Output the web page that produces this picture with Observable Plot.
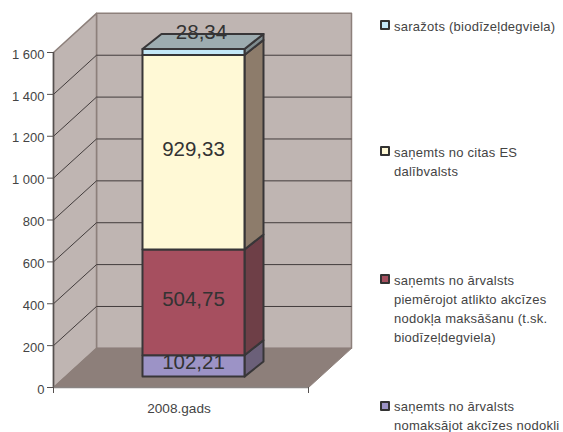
<!DOCTYPE html>
<html>
<head>
<meta charset="utf-8">
<script src="https://cdn.jsdelivr.net/npm/d3@7"></script>
<script src="https://cdn.jsdelivr.net/npm/@observablehq/plot@0.6"></script>
<style>
html,body{margin:0;padding:0;background:#fff;overflow:hidden}
#chart{position:relative;width:563px;height:432px;overflow:hidden;font-family:"Liberation Sans",sans-serif}
#chart svg{display:block;position:absolute;left:0;top:0}
.item{position:absolute;left:394px;font-size:13px;line-height:19.2px;color:#444;white-space:nowrap;letter-spacing:.25px}
.key{position:absolute;left:380px;width:6px;height:6px;border:2px solid #333;border-radius:1px}
</style>
</head>
<body>
<div id="chart"></div>
<script>
const categories = ["2008.gads"];
const series = [
  "saņemts no ārvalsts nomaksājot akcīzes nodokli",
  "saņemts no ārvalsts piemērojot atlikto akcīzes nodokļa maksāšanu (t.sk. biodīzeļdegviela)",
  "saņemts no citas ES dalībvalsts",
  "saražots (biodīzeļdegviela)"
];
const values = [102.21, 504.75, 929.33, 28.34];
const legendLines = [
  ["saņemts no ārvalsts", "nomaksājot akcīzes nodokli"],
  ["saņemts no ārvalsts", "piemērojot atlikto akcīzes", "nodokļa maksāšanu (t.sk.", "biodīzeļdegviela)"],
  ["saņemts no citas ES", "dalībvalsts"],
  ["saražots (biodīzeļdegviela)"]
];
const yTicks = [0, 200, 400, 600, 800, 1000, 1200, 1400, 1600];
const frontColors = ["#9c93c6", "#a64f5f", "#fff9d6", "#c4e8f8"];
const sideColors = ["#6b6079", "#6e3f47", "#8d7c6b", "#7f8c8f"];
const topColor = "#9dacb0";

// Pseudo-3D depth of the chart box and of the bar, in scale units
const wallDX = 43 / 255, wallDY = 187;
const barX1 = 0.349, barX2 = 0.749, barDX = 0.0745, barDY = 72, barBase = 52;

const poly = (pts) => [...pts, pts[0]].map(([x, y]) => ({x, y}));
const face = (pts, fill, stroke, strokeWidth) =>
  Plot.line(poly(pts), {x: "x", y: "y", fill, stroke, strokeWidth, strokeLinejoin: "round"});

const wallLine = "#8d807b", gridLine = "#423c3c", barLine = "#383638";
const yMax = 1600;
const tickLabel = d3.formatLocale({thousands: " ", grouping: [3], decimal: ",", currency: ["", ""]}).format(",");

let cum = barBase;
const segs = values.map((v, i) => {
  const s = {i, value: v, y0: cum, y1: cum + v, label: v.toFixed(2).replace(".", ",")};
  cum += v;
  return s;
});

const marks = [
  // walls
  face([[wallDX, wallDY], [1 + wallDX, wallDY], [1 + wallDX, yMax + wallDY], [wallDX, yMax + wallDY]], "#bfb5b2", wallLine, 1.5),
  face([[0, 0], [wallDX, wallDY], [wallDX, yMax + wallDY], [0, yMax]], "#bfb5b2", wallLine, 1.5),
  // grid
  Plot.link(yTicks.slice(1, -1), {x1: 0, x2: wallDX, y1: d => d, y2: d => d + wallDY, stroke: gridLine, strokeWidth: 1}),
  Plot.link(yTicks.slice(1, -1), {x1: wallDX, x2: 1 + wallDX, y1: d => d + wallDY, y2: d => d + wallDY, stroke: gridLine, strokeWidth: 1}),
  // floor
  face([[0, 0], [wallDX, wallDY], [1 + wallDX, wallDY], [1, 0]], "#8d7f7a", "#8d7f7a", 1),
  // axes
  Plot.ruleX([0], {y1: 0, y2: yMax, stroke: "#55504f", strokeWidth: 1.5}),
  Plot.ruleY([0], {x1: 0, x2: 1, stroke: "#8a8583", strokeWidth: 1.5}),
  Plot.axisY({ticks: yTicks, tickSize: 6, tickFormat: () => "", stroke: "#55504f", label: null}),
  Plot.text(yTicks, {x: 0, y: d => d, dx: -9, dy: 2, textAnchor: "end", text: tickLabel, fill: "#444", fontSize: 13}),
  Plot.axisX({ticks: [0, 1], tickSize: 6, tickFormat: () => "", label: null, stroke: "#55504f"}),
  Plot.text(categories, {x: 0.5, y: 0, dx: -2, dy: 21, text: d => d, fill: "#444", fontSize: 13.6}),
  // bar side + front faces
  ...segs.flatMap(s => [
    face([[barX2, s.y0], [barX2 + barDX, s.y0 + barDY], [barX2 + barDX, s.y1 + barDY], [barX2, s.y1]], sideColors[s.i], barLine, 2),
    face([[barX1, s.y0], [barX2, s.y0], [barX2, s.y1], [barX1, s.y1]], frontColors[s.i], barLine, 2)
  ]),
  // bar top
  face([[barX1, cum], [barX2, cum], [barX2 + barDX, cum + barDY], [barX1 + barDX, cum + barDY]], topColor, barLine, 2),
  // value labels
  Plot.text(segs.slice(0, 3), {x: (barX1 + barX2) / 2, y: d => (d.y0 + d.y1) / 2, dy: -3, text: "label", fill: "#333", fontSize: 20.5}),
  Plot.text(segs.slice(3), {x: (barX1 + barX2) / 2, y: d => (d.y0 + d.y1) / 2, dx: 8, dy: -20, text: "label", fill: "#333", fontSize: 20.5})
];

const chart = Plot.plot({
  width: 563, height: 432,
  marginLeft: 53, marginRight: 255, marginTop: 52, marginBottom: 45,
  style: {background: "#fff", fontFamily: "'Liberation Sans', sans-serif"},
  x: {domain: [0, 1]},
  y: {domain: [0, 1600]},
  marks
});
const root = document.getElementById("chart");
root.appendChild(chart);

// Legend: listed top-to-bottom, at the height used by the reference
const legendTop = [397, 270.5, 143, 16.5];
const keyTop = [401, 274, 146, 20];
series.forEach((name, i) => {
  const t = document.createElement("div");
  t.className = "item";
  t.style.top = legendTop[i] + "px";
  t.innerHTML = legendLines[i].join("<br>");
  root.appendChild(t);
  const k = document.createElement("div");
  k.className = "key";
  k.style.top = keyTop[i] + "px";
  k.style.background = frontColors[i];
  root.appendChild(k);
});
</script>
</body>
</html>
